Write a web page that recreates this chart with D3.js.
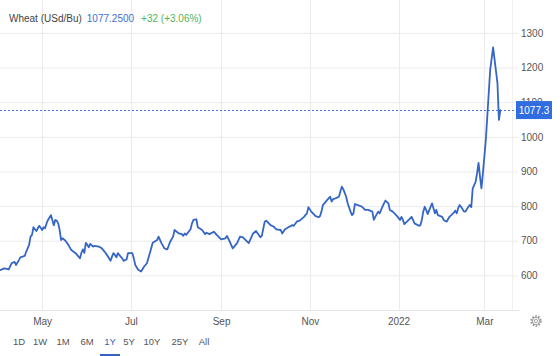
<!DOCTYPE html>
<html>
<head>
<meta charset="utf-8">
<script src="https://cdn.jsdelivr.net/npm/d3@7/dist/d3.min.js"></script>
<style>
  html, body { margin: 0; padding: 0; background: #fff; }
  svg { display: block; font-family: "Liberation Sans", Arial, Helvetica, sans-serif; }
</style>
</head>
<body>
<svg id="chart" width="560" height="356"></svg>
<script>
// ---------- DATA ----------
const title = "Wheat (USd/Bu)";
const lastPriceText = "1077.2500";
const changeText = "+32 (+3.06%)";
const lastPrice = 1077.25;
const lastLabel = "1077.3";

const dates = [
"2021-04-02","2021-04-05","2021-04-08","2021-04-10","2021-04-12","2021-04-13","2021-04-15","2021-04-16","2021-04-19","2021-04-20",
"2021-04-22","2021-04-23","2021-04-24","2021-04-25","2021-04-26","2021-04-27","2021-04-28","2021-04-29","2021-05-01","2021-05-02",
"2021-05-03","2021-05-04","2021-05-05","2021-05-07","2021-05-08","2021-05-09","2021-05-10","2021-05-11","2021-05-12","2021-05-13",
"2021-05-14","2021-05-15","2021-05-17","2021-05-19","2021-05-21","2021-05-24","2021-05-26","2021-05-27","2021-05-28","2021-05-29",
"2021-05-30","2021-05-31","2021-06-01","2021-06-02","2021-06-03","2021-06-05","2021-06-06","2021-06-09","2021-06-11","2021-06-13",
"2021-06-15","2021-06-17","2021-06-18","2021-06-19","2021-06-20","2021-06-21","2021-06-22","2021-06-25","2021-06-26","2021-06-28",
"2021-06-29","2021-07-02","2021-07-03","2021-07-04","2021-07-06","2021-07-08","2021-07-10","2021-07-12","2021-07-14","2021-07-16",
"2021-07-19","2021-07-20","2021-07-22","2021-07-24","2021-07-26","2021-07-28","2021-07-30","2021-07-31","2021-08-03","2021-08-05",
"2021-08-06","2021-08-07","2021-08-08","2021-08-11","2021-08-12","2021-08-13","2021-08-15","2021-08-16","2021-08-19","2021-08-21",
"2021-08-22","2021-08-24","2021-08-27","2021-08-29","2021-09-01","2021-09-04","2021-09-05","2021-09-07","2021-09-09","2021-09-12",
"2021-09-14","2021-09-16","2021-09-20","2021-09-22","2021-09-23","2021-09-25","2021-09-28","2021-09-29","2021-10-01","2021-10-02",
"2021-10-05","2021-10-07","2021-10-09","2021-10-12","2021-10-13","2021-10-15","2021-10-17","2021-10-20","2021-10-21","2021-10-23",
"2021-10-25","2021-10-28","2021-10-30","2021-10-31","2021-11-02","2021-11-05","2021-11-07","2021-11-08","2021-11-09","2021-11-10",
"2021-11-13","2021-11-15","2021-11-16","2021-11-17","2021-11-19","2021-11-21","2021-11-22","2021-11-23","2021-11-24","2021-11-26",
"2021-11-27","2021-11-29","2021-11-30","2021-12-01","2021-12-02","2021-12-04","2021-12-07","2021-12-09","2021-12-11","2021-12-14",
"2021-12-15","2021-12-16","2021-12-18","2021-12-19","2021-12-20","2021-12-22","2021-12-23","2021-12-25","2021-12-26","2021-12-28",
"2021-12-31","2022-01-02","2022-01-03","2022-01-04","2022-01-05","2022-01-08","2022-01-10","2022-01-12","2022-01-15","2022-01-16",
"2022-01-17","2022-01-18","2022-01-19","2022-01-20","2022-01-21","2022-01-24","2022-01-25","2022-01-26","2022-01-27","2022-01-28",
"2022-01-31","2022-02-01","2022-02-03","2022-02-05","2022-02-08","2022-02-09","2022-02-10","2022-02-11","2022-02-12","2022-02-13",
"2022-02-15","2022-02-16","2022-02-18","2022-02-19","2022-02-20","2022-02-21","2022-02-23","2022-02-24","2022-02-25","2022-02-26",
"2022-02-27","2022-02-28","2022-03-01","2022-03-02","2022-03-03","2022-03-05","2022-03-07","2022-03-10","2022-03-11","2022-03-12"
];

const prices = [
615,620,617,635,639,630,644,652,656,668,
688,712,717,739,733,728,736,743,731,739,
736,750,760,774,760,745,760,758,750,731,
702,707,700,688,673,664,654,649,665,675,
665,694,688,681,691,683,685,683,678,668,
656,642,654,664,659,652,664,649,642,646,
664,664,649,630,616,611,625,635,664,694,
702,712,693,678,675,697,712,731,721,719,
714,721,717,733,750,760,762,739,731,719,
723,719,726,717,704,707,714,697,678,693,
712,710,693,712,721,728,710,714,755,758,
745,741,733,731,721,733,738,745,743,755,
758,769,779,797,784,771,768,771,784,803,
818,827,813,820,823,827,842,856,849,827,
808,784,774,779,806,803,798,789,789,784,
760,769,784,779,789,808,816,808,789,784,
771,760,769,760,748,760,769,750,743,745,
760,784,798,789,777,808,794,779,789,774,
769,760,755,769,781,787,779,794,803,798,
784,784,798,803,797,851,870,895,925,885,
851,895,943,991,1058,1193,1258,1155,1049,1077.25
];

const yTicks = [600, 700, 800, 900, 1000, 1100, 1200, 1300];
const xTickDates = ["2021-05-01","2021-07-01","2021-09-01","2021-11-01","2022-01-01","2022-03-01"];
const xTickLabels = ["May","Jul","Sep","Nov","2022","Mar"];
const rangeButtons = ["1D","1W","1M","6M","1Y","5Y","10Y","25Y","All"];
const activeRange = "1Y";

// ---------- CHART ----------
const parse = d3.utcParse("%Y-%m-%d");
const series = dates.map((d, i) => ({ date: parse(d), value: prices[i] }));

const svg = d3.select("#chart");
const plotRight = 512, plotBottom = 310;

const x = d3.scaleUtc()
  .domain([parse("2021-04-02"), parse("2022-03-20")])
  .range([0, plotRight]);
const y = d3.scaleLinear()
  .domain([500, 1395])
  .range([plotBottom, 0]);

const gridColor = "#ebebeb";
const textColor = "#555";
const lineColor = "#3566c6";

// vertical grid
svg.append("g").selectAll("line")
  .data(xTickDates.map(parse))
  .join("line")
  .attr("x1", d => Math.round(x(d)) + 0.5).attr("x2", d => Math.round(x(d)) + 0.5)
  .attr("y1", 0).attr("y2", plotBottom)
  .attr("stroke", gridColor).attr("stroke-width", 1);

// right border
svg.append("line")
  .attr("x1", plotRight + 0.5).attr("x2", plotRight + 0.5)
  .attr("y1", 0).attr("y2", plotBottom)
  .attr("stroke", "#f0f0f0");

// y axis (gridlines + labels)
const yAxis = d3.axisRight(y)
  .tickValues(yTicks)
  .tickSize(plotRight + 6)
  .tickPadding(3)
  .tickFormat(d3.format("d"));
const gy = svg.append("g").attr("transform", "translate(0,0)").call(yAxis);
gy.select(".domain").remove();
gy.selectAll(".tick line").attr("stroke", gridColor);
gy.selectAll(".tick text")
  .attr("fill", textColor)
  .attr("font-size", 10)
  .attr("font-family", "'Liberation Sans', Arial, sans-serif");

// x axis
const xAxis = d3.axisBottom(x)
  .tickValues(xTickDates.map(parse))
  .tickSize(0)
  .tickPadding(8)
  .tickFormat((d, i) => xTickLabels[i]);
const gx = svg.append("g").attr("transform", `translate(0,${plotBottom})`).call(xAxis);
gx.select(".domain").attr("d", `M0,0.5H${plotRight + 7}`).attr("stroke", "#e3e3e3");
gx.selectAll(".tick text")
  .attr("fill", textColor)
  .attr("font-size", 10)
  .attr("font-family", "'Liberation Sans', Arial, sans-serif");

// last price dotted line
svg.append("line")
  .attr("x1", 0).attr("x2", plotRight + 4)
  .attr("y1", Math.round(y(lastPrice)) + 0.5).attr("y2", Math.round(y(lastPrice)) + 0.5)
  .attr("stroke", "#4a78d6").attr("stroke-width", 1)
  .attr("stroke-dasharray", "2,2");

// price line
const line = d3.line().x(d => x(d.date)).y(d => y(d.value));
svg.append("path")
  .datum(series)
  .attr("d", line)
  .attr("fill", "none")
  .attr("stroke", lineColor)
  .attr("stroke-width", 1.8)
  .attr("stroke-linejoin", "round")
  .attr("stroke-linecap", "round");

// last price label box
const ly = y(lastPrice);
svg.append("rect")
  .attr("x", plotRight + 4).attr("y", ly - 9)
  .attr("width", 36).attr("height", 18)
  .attr("fill", "#2f6de1");
svg.append("text")
  .attr("x", plotRight + 22).attr("y", ly + 3.5)
  .attr("text-anchor", "middle")
  .attr("fill", "#fff").attr("font-size", 10)
  .text(lastLabel);

// header
const header = svg.append("g").attr("font-size", 10);
const t1 = header.append("text").attr("x", 9).attr("y", 22).attr("fill", "#444").text(title);
const w1 = t1.node().getComputedTextLength();
const t2 = header.append("text").attr("x", 9 + w1 + 5).attr("y", 22).attr("fill", "#3f6fd0").text(lastPriceText);
const w2 = t2.node().getComputedTextLength();
header.append("text").attr("x", 9 + w1 + 5 + w2 + 7).attr("y", 22).attr("fill", "#53b45a").text(changeText);

// range buttons
const centers = [19, 40, 63, 87, 110, 129, 152, 180, 204];
const rb = svg.append("g").attr("font-size", 9.5);
rangeButtons.forEach((b, i) => {
  rb.append("text")
    .attr("x", centers[i]).attr("y", 345)
    .attr("text-anchor", "middle")
    .attr("fill", b === activeRange ? "#3563c2" : "#555")
    .text(b);
  if (b === activeRange) {
    rb.append("rect").attr("x", centers[i] - 10).attr("y", 354).attr("width", 20).attr("height", 2).attr("fill", "#3563c2");
  }
});

// gear icon
const gear = svg.append("g").attr("transform", "translate(536,321)").attr("fill", "none").attr("stroke", "#9a9a9a");
gear.append("circle").attr("r", 4.6).attr("stroke-width", 2.2).attr("stroke-dasharray", "1.6,1.3");
gear.append("circle").attr("r", 3.6).attr("stroke-width", 0.9);
gear.append("circle").attr("r", 1.6).attr("stroke-width", 0.9);
</script>
</body>
</html>
